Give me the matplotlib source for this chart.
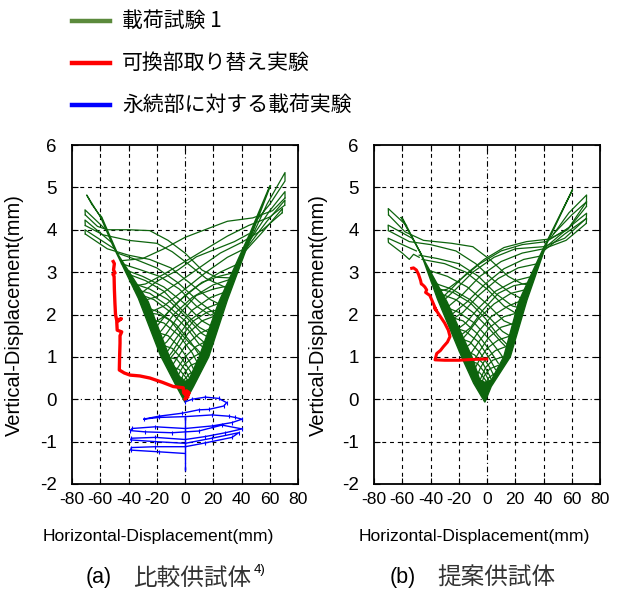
import matplotlib.pyplot as plt
from matplotlib.patches import Polygon
from matplotlib.lines import Line2D

plt.rcParams['font.family'] = ['Liberation Sans', 'Noto Sans CJK JP']
plt.rcParams['axes.unicode_minus'] = False

GREEN = '#0d640d'
LEG_GREEN = '#5b8a3c'
RED = '#ff0000'
BLUE = '#0000ff'

legend_labels = ['載荷試験 1', '可換部取り替え実験', '永続部に対する載荷実験']
captions = ['(a)', '(b)']
caption_names = ['比較供試体', '提案供試体']
x_ticks = [-80, -60, -40, -20, 0, 20, 40, 60, 80]
y_ticks = [-2, -1, 0, 1, 2, 3, 4, 5, 6]

# ---------------- (a) 比較供試体 ----------------
# V envelope band, edges in (mm, mm)
a_band = [(-60.5, 4.36), (-51, 3.62), (-33, 2.38), (-17.5, 1.04), (-6, 0.3), (0, -0.07),
          (6, 0.3), (16.8, 1.0), (30, 2.34), (48.5, 4.0), (60.6, 5.05),
          (59.6, 5.0), (46, 3.92), (24, 2.3), (10, 1.0), (3, 0.48), (0, 0.42),
          (-3, 0.48), (-11, 1.0), (-26, 2.3), (-47.5, 3.42), (-59, 4.3)]

# peaks beyond the envelope
a_hooks = [
    [(44, 3.6), (58, 4.6), (70.8, 5.35), (70.8, 5.15), (60, 4.6), (50, 4.2)],
    [(46, 3.75), (60, 4.45), (70.8, 4.9), (70.8, 4.75)],
    [(42, 3.5), (58, 4.2), (70.8, 4.7), (70.6, 4.58)],
    [(40, 3.4), (55, 3.95), (69, 4.5), (68.8, 4.4)],
    [(-58, 4.2), (-69.6, 4.82), (-66, 4.6), (-59, 4.28)],
    [(-56, 4.0), (-70.8, 4.47), (-70.6, 4.35)],
    [(-52, 3.7), (-70.8, 4.23), (-70.6, 4.1)],
    [(-50, 3.55), (-70.8, 4.0), (-70.6, 3.9)],
]

# return branches crossing the V
a_cross = [
    [(70.8, 4.75), (62, 4.45), (48, 4.28), (30, 4.2), (18, 4.05), (0, 3.82), (-15, 3.55), (-30, 3.32), (-45, 3.27)],
    [(70.6, 4.58), (60, 4.3), (45, 4.1), (30, 3.85), (15, 3.55), (0, 3.25), (-15, 2.95), (-28, 2.72), (-35, 2.68)],
    [(68.8, 4.4), (55, 4.0), (40, 3.7), (25, 3.45), (10, 3.1), (-5, 2.75), (-20, 2.42), (-30, 2.32)],
    [(45, 3.9), (35, 3.72), (20, 3.52), (8, 3.36), (-5, 3.05), (-20, 2.78), (-32, 2.48)],
    [(42, 3.55), (30, 3.35), (15, 3.0), (0, 2.6), (-15, 2.2), (-25, 2.05)],
    [(38, 3.2), (25, 3.0), (10, 2.7), (-5, 2.3), (-15, 1.95), (-22, 1.8)],
    [(36, 3.0), (24, 2.9), (12, 2.76), (0, 2.45), (-12, 2.05), (-20, 1.72)],
    [(34, 2.85), (20, 2.7), (5, 2.4), (-8, 2.0), (-16, 1.65), (-20, 1.5)],
    [(31, 2.68), (20, 2.6), (8, 2.45), (-3, 2.05), (-12, 1.6), (-17, 1.38)],
    [(30, 2.55), (18, 2.4), (5, 2.1), (-5, 1.7), (-13, 1.35), (-17, 1.25)],
    [(27, 2.3), (15, 2.15), (3, 1.85), (-6, 1.45), (-12, 1.15), (-15, 1.05)],
    [(25, 2.12), (16, 2.06), (6, 1.85), (-2, 1.5), (-9, 1.12), (-13, 0.95)],
    [(24, 2.0), (12, 1.85), (2, 1.55), (-6, 1.15), (-12, 0.9)],
    [(20, 1.7), (10, 1.55), (0, 1.25), (-6, 0.95), (-10, 0.75)],
    [(17, 1.4), (8, 1.25), (0, 1.0), (-5, 0.75), (-8, 0.6)],
    [(14, 1.15), (6, 1.0), (-1, 0.8), (-6, 0.5)],
    [(11, 0.9), (4, 0.8), (-1, 0.6), (-4, 0.35)],
    [(9, 0.7), (3, 0.6), (-2, 0.4)],
    [(-70.6, 4.35), (-62, 4.08), (-55, 4.0), (-40, 4.0), (-25, 3.98), (-12, 3.75), (0, 3.45), (12, 3.05), (22, 2.88), (34, 2.86)],
    [(-70.6, 4.1), (-58, 3.88), (-40, 3.75), (-20, 3.68), (-9, 3.48), (2, 3.2), (15, 2.85), (30, 2.62)],
    [(-70.6, 3.9), (-55, 3.55), (-40, 3.4), (-25, 3.3), (-10, 3.1), (5, 2.7), (18, 2.35), (26, 2.22)],
    [(-48, 3.45), (-35, 3.3), (-20, 3.1), (-5, 2.75), (10, 2.3), (22, 2.0)],
    [(-45, 3.2), (-32, 3.06), (-18, 2.9), (-4, 2.6), (8, 2.2), (18, 1.98), (25, 2.1)],
    [(-42, 3.05), (-30, 2.9), (-15, 2.65), (0, 2.25), (12, 1.85), (20, 1.7)],
    [(-40, 2.95), (-28, 2.8), (-15, 2.55), (-2, 2.1), (10, 1.7), (18, 1.55)],
    [(-38, 2.75), (-25, 2.6), (-12, 2.35), (2, 1.9), (12, 1.55), (17, 1.45)],
    [(-36, 2.6), (-25, 2.5), (-12, 2.2), (0, 1.85), (8, 1.5), (15, 1.3)],
    [(-34, 2.5), (-22, 2.35), (-10, 2.05), (2, 1.65), (10, 1.3), (14, 1.2)],
    [(-30, 2.2), (-18, 2.05), (-6, 1.75), (4, 1.35), (11, 1.0)],
    [(-28, 2.05), (-18, 2.0), (-10, 1.85), (-3, 1.55), (4, 1.3), (8, 1.2), (12, 1.05)],
    [(-26, 1.9), (-15, 1.8), (-4, 1.5), (5, 1.1), (9, 0.85)],
    [(-22, 1.6), (-12, 1.5), (-3, 1.2), (4, 0.85), (7, 0.65)],
    [(-18, 1.3), (-9, 1.2), (-2, 0.95), (4, 0.65), (6, 0.5)],
    [(-14, 1.0), (-6, 0.95), (0, 0.7), (4, 0.45)],
    [(-11, 0.8), (-4, 0.7), (1, 0.5), (3, 0.35)],
    [(-8, 0.6), (-2, 0.5), (2, 0.3)],
]

# replaceable part test
a_red_x = [-50.8, -50.0, -50.6, -49.5, -51.0, -50.2, -50.0, -49.6, -49.2, -48.4, -45.0, -48.3, -48.0,
           -44.8, -46.0, -46.0, -46.3, -46.5, -43.0, -38.9, -32.0, -24.8, -16.0, -8.3, -1.2,
           -1.0, 2.0, 1.0, 3.0, 0.0, 2.0]
a_red_y = [3.25, 3.2, 3.05, 2.98, 2.95, 2.9, 2.6, 2.26, 2.0, 1.87, 1.9, 1.82, 1.63,
           1.59, 1.5, 1.32, 1.0, 0.69, 0.62, 0.57, 0.55, 0.5, 0.4, 0.3, 0.27,
           0.15, 0.05, 0.2, 0.15, 0.0, 0.1]

# loading of the permanent part
a_blue_x = [0.2, 5, 14.4, 23.8, 29.5, 27.4, 16.8, 9.7, -2.1, -18.6, -29.3, -18.6, 0.2, 19.1, 30.9, 35.6,
            40.4, 33.3, 19.1, 0.2, -21, -37.5, -38.7, -28, -9.2, 9.7, 26.2, 40.4, 28.6, 14.4, 0.2,
            -21, -38, -38.5, -21, 0.2, 19, 38, 33.3, 14.4, 0.2, -21, -38, -38.5, -18.6, 0.2]
a_blue_y = [-0.06, 0.0, 0.05, 0.02, -0.08, -0.16, -0.24, -0.25, -0.33, -0.40, -0.47, -0.43, -0.41, -0.37,
            -0.40, -0.43, -0.47, -0.55, -0.63, -0.69, -0.65, -0.69, -0.74, -0.77, -0.79, -0.75, -0.61,
            -0.70, -0.79, -0.88, -0.95, -0.90, -0.92, -0.96, -1.0, -1.04, -0.92, -0.79, -0.90, -1.03,
            -1.12, -1.12, -1.14, -1.2, -1.24, -1.28]
a_blue_tail_x = [0.0, 0.0]
a_blue_tail_y = [-0.45, -1.65]

# ---------------- (b) 提案供試体 ----------------
b_band = [(-61, 4.3), (-46.5, 3.42), (-35, 2.36), (-18, 1.0), (-9.5, 0.38), (-1.5, -0.07),
          (3, 0.3), (16.5, 1.0), (28.3, 2.34), (42, 3.65), (60.6, 4.95),
          (59.6, 4.88), (39, 3.5), (22.4, 2.3), (11.8, 1.0), (3, 0.45), (-1.5, 0.4),
          (-5, 0.45), (-10.6, 1.0), (-28.3, 2.3), (-44, 3.25), (-59.5, 4.25)]

b_hooks = [
    [(45, 3.8), (58, 4.4), (70.5, 4.82), (70.4, 4.66)],
    [(47, 3.9), (60, 4.35), (70.5, 4.66), (70.4, 4.55)],
    [(42, 3.6), (56, 4.0), (70.5, 4.39), (70.3, 4.27)],
    [(40, 3.5), (55, 3.9), (70.5, 4.27), (70.3, 4.15)],
    [(-57, 4.1), (-69.9, 4.5), (-69.7, 4.35)],
    [(-53, 3.8), (-70, 4.11), (-69.8, 3.98)],
    [(-50, 3.5), (-70, 3.8), (-69.8, 3.7), (-60, 3.45), (-55, 3.3), (-52, 3.42), (-48, 3.35)],
]

b_cross = [
    [(70.4, 4.66), (58, 4.05), (42, 3.72), (25, 3.65), (10, 3.5), (-5, 3.2), (-18, 2.85), (-28, 2.6), (-34, 2.55)],
    [(70.4, 4.55), (57, 4.0), (44, 3.78), (28, 3.72), (12, 3.58), (-2, 3.3), (-15, 2.95), (-26, 2.58), (-31, 2.42)],
    [(70.3, 4.27), (55, 3.8), (40, 3.6), (20, 3.55), (5, 3.35), (-10, 3.0), (-22, 2.6), (-30, 2.35)],
    [(70.3, 4.15), (56, 3.75), (40, 3.55), (25, 3.45), (10, 3.25), (-5, 2.9), (-18, 2.45), (-27, 2.2)],
    [(38, 3.38), (26, 3.3), (12, 3.08), (-2, 2.7), (-14, 2.3), (-25, 2.0)],
    [(36, 3.2), (22, 3.1), (8, 2.85), (-6, 2.45), (-17, 2.05), (-24, 1.9)],
    [(32, 2.9), (20, 2.8), (6, 2.55), (-6, 2.15), (-15, 1.8), (-21, 1.65)],
    [(30, 2.75), (19, 2.68), (8, 2.5), (-3, 2.1), (-12, 1.68), (-19, 1.5)],
    [(29, 2.6), (17, 2.5), (5, 2.25), (-6, 1.9), (-14, 1.55), (-18, 1.4)],
    [(26, 2.35), (15, 2.2), (3, 1.95), (-6, 1.6), (-12, 1.3), (-16, 1.2)],
    [(23, 2.05), (12, 1.95), (2, 1.7), (-6, 1.35), (-11, 1.1), (-14, 1.0)],
    [(20, 1.8), (10, 1.7), (1, 1.45), (-5, 1.15), (-11, 0.8)],
    [(17, 1.5), (8, 1.4), (0, 1.2), (-5, 0.95), (-9, 0.7)],
    [(14, 1.25), (6, 1.15), (-1, 0.95), (-5, 0.72), (-7, 0.55)],
    [(11, 1.0), (4, 0.92), (-1, 0.75), (-5, 0.45)],
    [(8, 0.8), (2, 0.72), (-2, 0.55), (-4, 0.35)],
    [(5, 0.6), (1, 0.5), (-2, 0.3)],
    [(-69.7, 4.35), (-58, 3.95), (-45, 3.75), (-25, 3.68), (-10, 3.6), (2, 3.3), (15, 2.9), (25, 2.72), (30, 2.7)],
    [(-69.8, 3.98), (-55, 3.72), (-40, 3.65), (-22, 3.5), (-8, 3.2), (5, 2.8), (17, 2.5), (26, 2.35)],
    [(-48, 3.4), (-35, 3.32), (-20, 3.2), (-6, 2.9), (6, 2.5), (18, 2.2), (24, 2.15)],
    [(-46, 3.3), (-30, 3.2), (-15, 3.0), (0, 2.6), (12, 2.2), (22, 2.0)],
    [(-42, 3.05), (-28, 2.9), (-14, 2.65), (0, 2.25), (12, 1.85), (19, 1.75)],
    [(-38, 2.75), (-25, 2.6), (-12, 2.35), (1, 1.95), (11, 1.6), (16, 1.5)],
    [(-36, 2.62), (-24, 2.52), (-12, 2.28), (-1, 1.9), (8, 1.5), (14, 1.3)],
    [(-34, 2.5), (-22, 2.35), (-10, 2.05), (2, 1.65), (10, 1.35), (13, 1.25)],
    [(-31, 2.2), (-20, 2.05), (-9, 1.8), (2, 1.4), (9, 1.1), (11, 1.0)],
    [(-27, 1.95), (-17, 1.85), (-7, 1.55), (2, 1.15), (8, 0.85)],
    [(-24, 1.7), (-15, 1.6), (-6, 1.35), (2, 0.95), (6, 0.7)],
    [(-20, 1.45), (-12, 1.35), (-5, 1.1), (2, 0.75), (5, 0.55)],
    [(-16, 1.15), (-9, 1.05), (-3, 0.85), (2, 0.55), (3.5, 0.42)],
    [(-13, 0.9), (-7, 0.85), (-2, 0.65), (2, 0.4)],
    [(-10, 0.68), (-5, 0.62), (-1, 0.45), (1, 0.3)],
    [(-7, 0.5), (-3, 0.42), (0, 0.25)],
]

b_red_x = [-53.3, -52.0, -50.0, -48.5, -47.0, -46.5, -45.5, -44.0, -42.7, -43.5, -40.5, -38.0, -36.0,
           -37.0, -33.0, -30.0, -27.4, -26.2, -28.0, -30.9, -33.0, -35.6, -36.8, -30.0, -20.0, -10.0, -0.2]
b_red_y = [3.09, 3.1, 3.05, 2.95, 2.8, 2.72, 2.7, 2.65, 2.58, 2.52, 2.45, 2.26, 2.1,
           2.15, 1.95, 1.8, 1.63, 1.48, 1.35, 1.24, 1.15, 1.08, 0.93, 0.92, 0.92, 0.94, 0.95]


def draw_green(ax, band, hooks, cross):
    ax.add_patch(Polygon(band, closed=True, fc=GREEN, ec=GREEN, lw=1.0, zorder=3))
    for c in hooks + cross:
        xs, ys = zip(*c)
        ax.plot(xs, ys, color=GREEN, lw=0.9, zorder=3)


def style_axes(ax):
    ax.set_xlim(-80, 80)
    ax.set_ylim(-2, 6)
    ax.set_xticks(x_ticks)
    ax.set_yticks(y_ticks)
    ax.set_xticklabels([str(t) for t in x_ticks], fontsize=12.6)
    ax.set_yticklabels([str(t) for t in y_ticks], fontsize=13.5)
    ax.tick_params(direction='in', length=4, width=0.8, top=True, right=True)
    ax.tick_params(axis='x', pad=6)
    ax.tick_params(axis='y', pad=11)
    for t in x_ticks[1:-1]:
        ax.axvline(t, color='black', lw=0.8, ls=(0, (3.5, 3.5)) if t else (0, (5, 2.5, 1, 2.5)), zorder=1)
    for t in y_ticks[1:-1]:
        ax.axhline(t, color='black', lw=0.8, ls=(0, (3.5, 3.5)) if t else (0, (5, 2.5, 1, 2.5)), zorder=1)
    for s in ax.spines.values():
        s.set_linewidth(1.3)


fig = plt.figure(figsize=(6.25, 5.92), dpi=100)
ax_a = fig.add_axes([72 / 625, 1 - 484 / 592, 226 / 625, 339 / 592])
ax_b = fig.add_axes([374 / 625, 1 - 484 / 592, 226 / 625, 339 / 592])

draw_green(ax_a, a_band, a_hooks, a_cross)
ax_a.plot(a_red_x, a_red_y, color=RED, lw=2.4, zorder=4)
ax_a.plot(a_blue_x, a_blue_y, color=BLUE, lw=1.0, zorder=4, marker='|', ms=2.5, mew=0.8)
ax_a.plot(a_blue_tail_x, a_blue_tail_y, color=BLUE, lw=1.0, zorder=4, marker='|', ms=2.5)

draw_green(ax_b, b_band, b_hooks, b_cross)
ax_b.plot(b_red_x, b_red_y, color=RED, lw=2.2, zorder=4)

style_axes(ax_a)
style_axes(ax_b)

# axis titles placed in figure pixels
for xc in [158, 474]:
    fig.text(xc / 625, 1 - 536 / 592, 'Horizontal-Displacement(mm)', fontsize=12.6,
             ha='center', va='center')
for xc in [14, 318]:
    fig.text(xc / 625, 1 - 315 / 592, 'Vertical-Displacement(mm)', fontsize=14.5,
             ha='center', va='center', rotation=90)

# legend drawn in figure coordinates
for i, (lab, col) in enumerate(zip(legend_labels, [LEG_GREEN, RED, BLUE])):
    yy = 1 - (21 + 42 * i) / 592
    fig.add_artist(Line2D([72 / 625, 110 / 625], [yy, yy], color=col, lw=3.2))
    fig.text(122 / 625, yy, lab, fontsize=15, va='center', ha='left',
             family=['Noto Sans CJK JP', 'Liberation Sans'])

# captions
for i, (cap, name) in enumerate(zip(captions, caption_names)):
    x0 = [86, 390][i]
    fig.text(x0 / 625, 1 - 578 / 592, cap, fontsize=15.5, va='center', ha='left')
    fig.text((x0 + 47) / 625, 1 - 578 / 592, name, fontsize=17, va='center', ha='left',
             family=['Noto Sans CJK JP'], color='#333333')
fig.text(254 / 625, 1 - 570 / 592, '4)', fontsize=9.5, va='center', ha='left')

fig.savefig('out.png', dpi=100)
